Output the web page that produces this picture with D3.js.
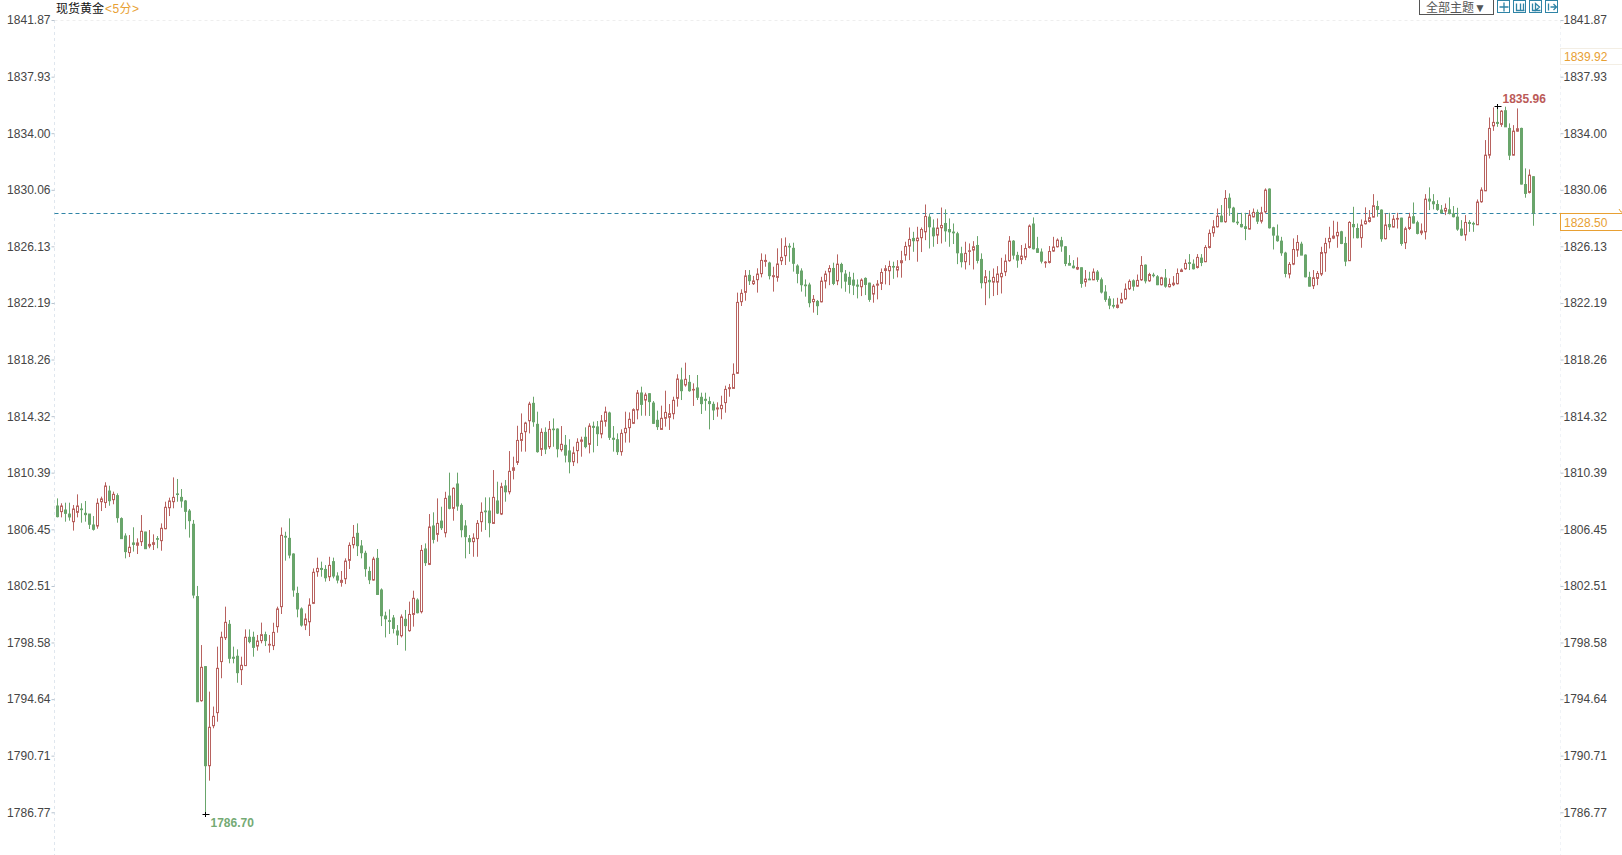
<!DOCTYPE html>
<html><head><meta charset="utf-8">
<script src="https://cdn.jsdelivr.net/npm/d3@7/dist/d3.min.js"></script>
<style>html,body{margin:0;padding:0;background:#fff;overflow:hidden}svg{display:block}</style>
</head><body><svg id="c" width="1622" height="855"></svg>
<script>
const title="现货黄金", period="<5分>", themeLabel="全部主题▼";
const yTicks=[1841.87,1837.93,1834.00,1830.06,1826.13,1822.19,1818.26,1814.32,1810.39,1806.45,1802.51,1798.58,1794.64,1790.71,1786.77];
const lastPrice=1828.50, prevRef=1839.92, periodHigh=1835.96, periodLow=1786.70;
const directions=
"GRGGRRGGGG"+"RRRGRGGGRG"+"RRGRRGRRRR"+"GGGGGGRGRR"+"RRRGGGRRGG"+"RRGRRRRGGG"+"GGRRRRGGRG"+"GRRRRGGGGR"+"GGGGGGRGRR"+"GRGRGRGRGR"+
"GGGGRRRGGR"+"GRGRRRRRRG"+"GRGRGGRGGR"+"RRGRGGRRGG"+"GRRRRRGRGG"+"GRRRRRGRGR"+"GGGGGRRRRR"+"RRRGRRRRGR"+"RRRGGGGGGR"+"GRRRGRGGGG"+
"GRGGRRRRRG"+"RRRRGRRRGG"+"RRGGGGGRRR"+"GGRGRRRRRG"+"GRRRGGGRRR"+"RGGGGRGRGR"+"GGGGGRRRRG"+"RRGRGGRGRR"+"RRRGGRGRRR"+"RGRGGGGGRR"+
"GRRGGGGGRR"+"RGGGRRRRRR"+"RGGRGGRRRR"+"GGRGRRGRRG"+"GRRGGGGRGG"+"GGRGGRRRRR"+"GRGGRRGGRG";
const highs=[
1808.65,1808.31,1808.35,1808.35,1808.19,1808.93,1808.31,1808.47,1807.56,1807.42,
1808.65,1808.77,1809.77,1809.53,1809.12,1809.00,1807.33,1806.22,1806.10,1806.64,
1805.87,1807.49,1806.33,1806.45,1806.15,1806.03,1806.91,1808.42,1808.70,1810.11,
1810.00,1809.30,1808.54,1807.91,1807.15,1802.56,1798.45,1796.99,1795.21,1794.17,
1798.34,1799.38,1801.12,1800.19,1798.34,1798.15,1797.64,1799.54,1799.54,1799.38,
1799.15,1800.01,1799.38,1799.15,1800.00,1801.12,1806.63,1806.33,1807.26,1804.83,
1802.51,1801.07,1800.65,1801.70,1803.78,1804.53,1804.25,1804.01,1804.59,1804.53,
1803.51,1803.60,1804.48,1805.59,1806.80,1806.91,1805.75,1805.01,1803.90,1804.59,
1805.13,1802.39,1800.77,1800.93,1800.54,1799.84,1800.58,1800.89,1801.47,1802.23,
1801.70,1805.41,1805.52,1807.56,1807.68,1808.65,1808.07,1809.11,1810.44,1809.42,
1810.44,1808.30,1807.14,1806.10,1806.22,1807.14,1808.37,1808.72,1808.72,1810.62,
1809.81,1809.74,1809.93,1811.94,1811.55,1813.70,1814.56,1813.98,1815.37,1815.72,
1814.68,1813.52,1813.59,1814.03,1814.21,1813.52,1813.68,1813.06,1812.76,1812.25,
1812.83,1812.94,1813.59,1813.87,1813.99,1814.03,1814.45,1815.03,1814.68,1813.68,
1813.17,1813.45,1814.68,1814.63,1814.91,1816.19,1816.42,1816.00,1815.96,1815.42,
1814.75,1815.10,1816.14,1815.21,1815.72,1817.28,1817.74,1818.09,1817.23,1816.65,
1817.23,1816.00,1816.00,1815.72,1815.38,1815.33,1815.79,1816.49,1816.61,1818.04,
1822.96,1823.19,1824.53,1824.53,1824.12,1824.65,1825.69,1825.62,1825.11,1824.76,
1826.04,1826.74,1826.80,1826.39,1826.43,1824.93,1824.65,1823.88,1823.65,1822.79,
1822.45,1824.06,1824.48,1824.87,1825.04,1825.62,1825.04,1824.53,1824.41,1824.34,
1823.88,1823.95,1824.02,1823.65,1823.55,1823.83,1824.64,1824.87,1825.18,1825.11,
1825.22,1825.87,1826.50,1827.49,1827.19,1827.54,1827.49,1829.09,1828.42,1828.05,
1828.12,1828.88,1828.75,1828.12,1827.77,1827.19,1826.15,1826.50,1826.38,1826.54,
1826.89,1825.69,1824.53,1824.48,1824.64,1824.80,1825.38,1825.62,1826.89,1826.61,
1825.80,1826.27,1826.38,1827.70,1828.19,1826.84,1826.03,1825.15,1826.20,1826.84,
1826.73,1826.84,1826.20,1825.57,1825.22,1825.41,1824.71,1824.53,1824.41,1824.64,
1824.53,1824.01,1823.48,1822.72,1822.56,1822.60,1822.95,1823.60,1823.88,1823.88,
1824.22,1825.50,1824.92,1824.34,1824.34,1824.18,1824.06,1824.60,1823.95,1824.11,
1824.64,1824.64,1825.27,1825.64,1825.27,1825.64,1825.64,1826.26,1827.35,1828.00,
1828.81,1829.05,1830.09,1829.86,1828.93,1828.51,1828.51,1828.51,1828.70,1828.81,
1828.74,1828.93,1830.21,1830.21,1827.54,1827.70,1826.84,1825.80,1825.08,1826.73,
1826.96,1826.50,1825.62,1824.41,1824.53,1824.46,1826.15,1826.77,1827.54,1827.96,
1827.89,1827.26,1826.84,1827.93,1828.93,1827.77,1828.05,1828.89,1828.70,1829.81,
1829.35,1828.75,1828.47,1828.51,1828.35,1828.51,1828.17,1827.54,1828.51,1829.23,
1827.96,1827.77,1829.81,1830.28,1829.81,1829.39,1829.05,1829.16,1829.58,1828.98,
1828.86,1828.00,1828.35,1828.00,1827.89,1829.44,1830.28,1833.57,1835.14,1835.84,
1835.96,1835.65,1835.89,1834.73,1834.61,1835.77,1834.43,1831.60,1831.53,1831.06];
const bodyHighs=[
1808.12,1808.12,1807.84,1807.56,1807.91,1808.12,1807.91,1807.61,1807.56,1806.80,
1808.31,1808.61,1809.51,1809.16,1808.93,1808.84,1807.24,1806.03,1805.25,1805.55,
1805.55,1806.36,1806.31,1805.45,1805.57,1805.85,1806.57,1808.03,1808.47,1808.72,
1808.96,1808.72,1808.47,1807.77,1806.85,1801.82,1796.90,1796.95,1792.73,1793.49,
1796.83,1798.99,1800.03,1799.89,1797.60,1797.67,1797.04,1798.99,1798.99,1798.99,
1798.73,1799.17,1799.17,1798.50,1799.33,1800.96,1806.08,1806.01,1805.87,1804.78,
1802.04,1800.96,1800.26,1801.23,1803.51,1803.78,1803.78,1803.71,1803.99,1804.25,
1803.25,1802.95,1804.29,1805.38,1805.94,1806.22,1805.34,1804.83,1803.57,1804.43,
1804.48,1802.28,1800.47,1800.14,1800.33,1799.43,1800.40,1800.24,1800.58,1801.70,
1801.58,1805.03,1805.13,1806.66,1806.73,1806.91,1807.07,1808.65,1808.81,1809.35,
1809.65,1808.16,1806.73,1805.85,1805.89,1806.91,1807.68,1807.77,1807.77,1808.72,
1808.47,1809.46,1809.51,1810.53,1810.78,1812.68,1813.17,1813.89,1815.21,1815.26,
1813.80,1813.24,1813.24,1813.45,1813.47,1813.47,1812.41,1812.34,1811.95,1811.81,
1812.55,1812.71,1812.90,1813.68,1813.66,1813.62,1814.03,1814.66,1814.59,1812.83,
1812.73,1813.17,1813.52,1814.15,1814.82,1815.98,1815.98,1815.84,1815.93,1815.28,
1814.08,1814.22,1814.63,1814.54,1815.47,1816.95,1816.88,1816.93,1816.72,1816.23,
1816.33,1815.68,1815.54,1815.38,1815.19,1814.94,1815.12,1816.23,1816.35,1817.28,
1822.28,1822.91,1824.12,1824.16,1823.77,1824.25,1825.20,1825.20,1825.02,1824.14,
1824.95,1825.41,1826.18,1826.18,1826.04,1824.81,1824.46,1823.49,1823.49,1822.49,
1822.35,1823.76,1824.25,1824.64,1824.64,1824.94,1824.92,1824.25,1824.02,1823.83,
1823.48,1823.83,1823.95,1823.62,1823.41,1823.55,1824.36,1824.62,1824.78,1824.78,
1824.76,1825.18,1826.17,1826.66,1826.73,1826.75,1827.35,1828.26,1828.21,1827.45,
1827.45,1827.63,1827.77,1827.35,1827.17,1827.05,1825.66,1825.69,1825.87,1826.15,
1826.24,1825.27,1824.06,1823.81,1824.02,1824.25,1824.30,1825.15,1826.54,1826.54,
1825.55,1825.50,1826.03,1827.59,1827.73,1826.01,1825.78,1825.08,1825.82,1826.13,
1826.61,1826.57,1826.15,1824.99,1824.80,1824.71,1824.69,1823.90,1823.90,1824.39,
1824.39,1823.85,1823.00,1822.51,1822.07,1822.09,1822.49,1823.20,1823.74,1823.78,
1823.81,1824.85,1824.87,1824.22,1824.18,1824.06,1823.99,1823.97,1823.53,1823.62,
1824.29,1824.53,1824.99,1825.04,1824.94,1825.41,1825.36,1826.10,1827.08,1827.54,
1828.28,1828.28,1829.51,1829.53,1828.84,1827.86,1827.70,1827.54,1828.35,1828.54,
1828.54,1828.51,1830.09,1830.16,1827.47,1826.89,1826.54,1825.71,1824.92,1825.96,
1826.45,1826.33,1825.57,1824.02,1823.99,1824.29,1825.75,1826.38,1826.73,1826.89,
1827.15,1827.19,1826.38,1827.84,1827.70,1827.42,1827.66,1827.93,1828.17,1829.00,
1828.95,1828.70,1827.66,1827.70,1828.07,1828.12,1828.14,1827.40,1828.21,1828.24,
1827.82,1827.24,1829.46,1829.46,1829.28,1829.09,1828.70,1828.82,1828.72,1828.44,
1828.21,1827.38,1827.84,1827.84,1827.77,1829.26,1830.09,1832.52,1834.38,1834.80,
1834.80,1835.58,1835.61,1834.38,1834.19,1834.36,1834.38,1830.48,1831.13,1831.02];
const bodyLows=[
1807.38,1807.73,1807.61,1807.36,1807.03,1807.68,1807.89,1807.52,1806.85,1806.50,
1806.73,1808.42,1808.36,1808.49,1808.56,1807.31,1805.85,1804.95,1804.88,1805.45,
1805.39,1805.64,1805.15,1805.34,1805.45,1805.83,1805.71,1806.54,1808.00,1808.42,
1808.93,1808.47,1807.75,1807.10,1801.93,1794.51,1794.58,1790.06,1790.06,1792.84,
1793.75,1797.30,1798.96,1797.53,1797.53,1796.53,1796.74,1797.02,1798.69,1798.29,
1798.38,1798.76,1798.76,1798.45,1798.41,1799.73,1801.12,1805.96,1804.71,1802.28,
1800.96,1799.84,1799.84,1800.07,1801.35,1803.55,1803.71,1803.13,1803.20,1803.25,
1802.97,1802.81,1803.06,1804.34,1805.43,1805.36,1804.87,1803.76,1802.99,1802.97,
1801.97,1800.49,1800.28,1800.12,1799.61,1799.15,1799.10,1799.80,1799.45,1800.58,
1800.70,1800.77,1804.18,1804.06,1805.80,1806.15,1806.61,1806.26,1807.96,1807.96,
1808.12,1806.47,1805.99,1805.64,1805.64,1805.85,1807.03,1807.72,1806.96,1806.91,
1807.63,1807.56,1809.11,1809.11,1810.60,1811.15,1812.68,1813.29,1814.05,1813.98,
1811.90,1812.06,1812.08,1812.24,1813.45,1812.10,1812.04,1811.66,1811.20,1811.20,
1811.97,1812.62,1812.25,1812.41,1813.59,1813.15,1813.13,1814.01,1812.90,1812.76,
1811.90,1811.90,1813.22,1813.57,1813.87,1814.80,1815.19,1815.49,1815.38,1813.87,
1813.64,1813.45,1814.22,1814.29,1814.54,1815.61,1816.14,1816.54,1816.14,1816.19,
1815.68,1815.24,1815.47,1815.24,1814.80,1814.87,1814.89,1815.31,1816.28,1816.30,
1817.35,1822.33,1822.98,1823.79,1823.58,1823.86,1824.28,1825.13,1824.14,1824.07,
1824.02,1825.18,1825.53,1826.16,1825.00,1824.30,1823.51,1823.44,1822.26,1822.33,
1822.05,1822.32,1823.76,1824.41,1823.60,1823.78,1824.41,1823.76,1823.53,1823.48,
1823.41,1823.37,1823.53,1822.49,1822.86,1823.48,1823.60,1824.50,1824.48,1824.74,
1824.53,1825.04,1825.57,1826.20,1826.57,1826.57,1826.78,1827.19,1827.54,1826.91,
1826.96,1827.47,1827.26,1827.19,1827.12,1825.73,1825.11,1825.11,1825.85,1825.92,
1825.20,1823.65,1823.65,1823.72,1823.69,1823.69,1824.06,1824.41,1825.18,1825.57,
1825.22,1825.27,1825.43,1826.10,1826.01,1825.76,1825.15,1825.04,1825.06,1825.85,
1826.15,1826.20,1824.99,1824.87,1824.69,1824.60,1823.60,1823.71,1823.85,1823.85,
1823.88,1823.00,1822.49,1822.09,1822.02,1821.93,1822.25,1822.53,1823.23,1823.41,
1823.41,1823.85,1823.78,1823.78,1824.15,1823.51,1823.51,1823.41,1823.37,1823.51,
1823.58,1824.43,1824.62,1824.99,1824.62,1824.71,1825.06,1825.11,1826.10,1827.12,
1827.54,1827.89,1827.89,1828.86,1827.89,1827.82,1827.54,1827.42,1827.38,1828.23,
1827.93,1827.93,1828.58,1827.47,1826.96,1826.57,1825.73,1824.29,1824.25,1824.94,
1825.92,1825.57,1824.06,1823.41,1823.44,1823.95,1824.25,1825.73,1826.50,1826.75,
1826.91,1826.38,1825.15,1825.18,1827.54,1826.78,1826.78,1827.75,1827.91,1828.21,
1828.75,1826.71,1826.71,1827.54,1827.52,1828.07,1826.38,1826.43,1827.42,1827.80,
1827.08,1827.12,1827.19,1829.33,1829.14,1828.75,1828.51,1828.63,1828.47,1828.24,
1827.38,1826.96,1826.98,1827.77,1827.73,1827.68,1829.28,1830.04,1832.52,1834.56,
1834.73,1834.66,1834.49,1832.52,1832.52,1834.19,1830.51,1829.86,1829.93,1828.50];
const lows=[
1807.33,1807.33,1807.03,1807.10,1806.41,1807.33,1806.96,1807.03,1806.52,1806.41,
1806.54,1807.77,1807.98,1808.14,1808.24,1806.96,1805.83,1804.48,1804.57,1804.95,
1804.78,1805.34,1805.15,1805.18,1805.06,1805.18,1805.01,1806.50,1807.42,1807.96,
1808.42,1808.00,1806.50,1805.92,1801.70,1794.51,1794.51,1786.70,1789.02,1792.66,
1793.12,1796.14,1798.80,1797.18,1797.18,1795.83,1795.67,1797.02,1798.57,1797.64,
1798.06,1798.57,1798.38,1797.92,1798.10,1799.31,1800.61,1804.32,1804.48,1801.81,
1800.38,1799.73,1799.49,1799.08,1801.30,1803.20,1803.20,1802.86,1802.90,1803.09,
1802.74,1802.51,1802.69,1803.74,1805.17,1804.64,1804.48,1803.20,1802.69,1802.93,
1801.93,1799.77,1798.98,1799.22,1799.26,1798.45,1798.98,1798.06,1799.38,1799.73,
1800.65,1800.65,1803.95,1804.01,1805.52,1805.64,1806.45,1805.94,1807.89,1807.10,
1807.79,1805.94,1804.48,1804.78,1804.59,1804.59,1806.33,1806.45,1805.94,1806.87,
1807.56,1807.49,1808.42,1808.93,1809.97,1810.97,1811.90,1811.90,1813.17,1813.63,
1811.83,1811.60,1811.73,1812.08,1812.24,1811.50,1811.90,1811.15,1810.39,1810.90,
1811.09,1811.55,1812.13,1811.78,1811.85,1812.29,1812.83,1813.64,1812.71,1811.90,
1811.67,1811.62,1812.53,1812.53,1813.82,1814.15,1814.40,1814.40,1814.38,1813.82,
1813.41,1813.41,1813.64,1813.41,1814.15,1815.03,1815.49,1816.42,1816.07,1815.08,
1815.49,1814.52,1814.75,1813.45,1814.10,1814.33,1814.15,1814.61,1815.72,1816.30,
1817.30,1822.03,1822.40,1823.49,1823.49,1822.96,1824.02,1824.76,1823.88,1823.03,
1823.72,1824.88,1824.88,1825.11,1824.42,1823.61,1823.03,1822.68,1821.94,1821.57,
1821.40,1822.28,1823.25,1823.48,1823.48,1823.48,1823.25,1823.02,1822.90,1822.79,
1822.56,1822.72,1822.79,1822.32,1822.26,1822.49,1823.14,1823.53,1823.48,1823.92,
1824.02,1824.00,1825.18,1825.22,1825.80,1825.11,1825.78,1826.61,1826.03,1826.15,
1826.34,1826.38,1826.50,1826.15,1826.34,1824.94,1824.71,1824.57,1824.87,1824.57,
1824.99,1823.25,1822.09,1822.56,1822.72,1822.79,1822.90,1824.11,1825.11,1825.27,
1824.69,1824.94,1825.22,1826.03,1825.96,1825.73,1824.99,1824.69,1824.99,1825.80,
1826.10,1825.80,1824.80,1824.87,1824.64,1824.53,1823.30,1823.37,1823.83,1823.83,
1823.71,1822.90,1822.32,1821.81,1821.86,1821.86,1822.21,1822.44,1823.14,1823.09,
1823.37,1823.78,1823.60,1823.71,1824.02,1823.48,1823.46,1823.30,1823.32,1823.41,
1823.53,1824.39,1824.55,1824.53,1824.57,1824.64,1824.80,1825.08,1826.03,1826.84,
1827.49,1827.86,1827.82,1828.30,1827.84,1827.66,1827.49,1826.61,1827.35,1828.19,
1827.73,1827.77,1828.47,1827.42,1825.96,1826.50,1825.52,1824.02,1823.95,1824.87,
1825.45,1825.57,1824.02,1823.39,1823.21,1823.48,1824.11,1824.41,1826.03,1826.68,
1826.08,1826.33,1824.80,1825.18,1826.73,1826.73,1826.08,1827.70,1827.84,1828.19,
1828.24,1826.50,1826.66,1827.31,1827.49,1827.42,1826.22,1825.99,1827.31,1827.77,
1827.01,1826.96,1826.66,1828.70,1828.75,1828.65,1828.47,1828.35,1828.40,1828.19,
1827.26,1826.89,1826.57,1827.19,1827.19,1827.66,1829.21,1830.02,1832.29,1834.21,
1834.49,1834.49,1834.49,1832.18,1832.50,1834.15,1830.48,1829.56,1829.86,1827.61];

const GREEN="#69a56b", RED="#b8625f", ORANGE="#e8a033", AXIS="#454545", FAINT="#dfe6ee", TEAL="#2f84a6";
const FONT="'Liberation Sans',Arial,sans-serif", CJK="'Liberation Sans','Noto Sans CJK SC',sans-serif";
const W=1622,H=855,plotL=54.5,plotR=1560.5;
const svg=d3.select("#c");
const indices=d3.range(highs.length);
const x=d3.scalePoint().domain(indices).range([57.5,57.5+4*(highs.length-1)]);
const y=d3.scaleLinear().domain([periodLow,periodHigh]).range([814,105.7]);
const labelShift=-0.7;

// frame lines
svg.append("line").attr("x1",plotL).attr("x2",plotL).attr("y1",20).attr("y2",H)
  .attr("stroke",FAINT).attr("stroke-dasharray","3,3");
svg.append("line").attr("x1",plotL).attr("x2",plotR).attr("y1",20.5).attr("y2",20.5)
  .attr("stroke","#eeeeee").attr("stroke-dasharray","3,3");
svg.append("line").attr("x1",plotR).attr("x2",plotR).attr("y1",20).attr("y2",H)
  .attr("stroke","#f0f3f7").attr("stroke-dasharray","3,3");

// axes
function styleAxis(g){
  g.select(".domain").remove();
  g.selectAll("line").attr("stroke","#b9c4cf");
  g.selectAll("text").attr("fill",AXIS).style("font-family",FONT).style("font-size","12px");
}
svg.append("g").attr("transform",`translate(${plotL},${labelShift})`)
  .call(d3.axisLeft(y).tickValues(yTicks).tickSize(3).tickPadding(1).tickFormat(d3.format(".2f"))).call(styleAxis);
svg.append("g").attr("transform",`translate(${plotR},${labelShift})`)
  .call(d3.axisRight(y).tickValues(yTicks).tickSize(3).tickPadding(0).tickFormat(d3.format(".2f"))).call(styleAxis);

// last price line
svg.append("line").attr("x1",plotL).attr("x2",plotR).attr("y1",Math.round(y(lastPrice))+0.5).attr("y2",Math.round(y(lastPrice))+0.5)
  .attr("stroke",TEAL).attr("stroke-dasharray","4,3");

// candles
const cg=svg.append("g").selectAll("g").data(indices).join("g");
cg.append("line").attr("x1",i=>x(i)).attr("x2",i=>x(i)).attr("y1",i=>y(highs[i])).attr("y2",i=>y(lows[i]))
  .attr("stroke",i=>directions[i]==="R"?RED:GREEN).attr("stroke-width",1);
cg.append("rect").attr("x",i=>x(i)-1).attr("width",2)
  .attr("y",i=>y(bodyHighs[i]))
  .attr("height",i=>Math.max(y(bodyLows[i])-y(bodyHighs[i]),0.6))
  .attr("fill",i=>directions[i]==="R"?"#fff":GREEN)
  .attr("stroke",i=>directions[i]==="R"?RED:GREEN).attr("stroke-width",1);

// extreme markers
const hiI=highs.indexOf(periodHigh), loI=lows.indexOf(periodLow);
[[hiI,periodHigh],[loI,periodLow]].forEach(([i,v])=>{
  svg.append("path").attr("d",`M${x(i)-3},${Math.round(y(v))+.5}H${x(i)+4}M${x(i)},${Math.round(y(v))-2}V${Math.round(y(v))+3}`).attr("stroke","#000").attr("fill","none");
});
svg.append("text").attr("x",x(hiI)+5).attr("y",y(periodHigh)-2.5).attr("fill","#bb5a58")
  .style("font",`bold 12px ${FONT}`).text(d3.format(".2f")(periodHigh));
svg.append("text").attr("x",x(loI)+5).attr("y",y(periodLow)+12.5).attr("fill","#74aa74")
  .style("font",`bold 12px ${FONT}`).text(d3.format(".2f")(periodLow));

// price boxes
svg.append("rect").attr("x",plotR).attr("y",213.5).attr("width",W-plotR+2).attr("height",17)
  .attr("fill","#fff").attr("stroke",ORANGE);
svg.append("text").attr("x",1564).attr("y",226.5).attr("fill",ORANGE).style("font",`12px ${FONT}`).text(d3.format(".2f")(lastPrice));
svg.append("rect").attr("x",plotR).attr("y",48.5).attr("width",W-plotR+2).attr("height",16)
  .attr("fill","#fff").attr("stroke","#f3eee4");
svg.append("text").attr("x",1564).attr("y",60.5).attr("fill",ORANGE).style("font",`12px ${FONT}`).text(d3.format(".2f")(prevRef));
svg.append("path").attr("d",`M${W-3},209L${W-1},212H${W}`).attr("stroke",ORANGE).attr("fill","none");

// title
const t=svg.append("text").attr("x",56).attr("y",13).style("font",`12px ${CJK}`);
t.append("tspan").attr("fill","#111").text(title);
t.append("tspan").attr("fill",ORANGE).attr("dx",1).style("letter-spacing","0.4px").text(period);

// toolbar
svg.append("rect").attr("x",1419.5).attr("y",-2).attr("width",74).attr("height",16.5).attr("fill","#fff").attr("stroke","#555");
svg.append("text").attr("x",1426).attr("y",12).attr("fill","#555").style("font",`12px ${CJK}`).text(themeLabel);
const icons=[1497.5,1513.5,1529.5,1545.5];
const glyphs=["M6.5,2V11M2,6.5H11","M3,3V10H11M7,3V10M10,3V10","M3,3V10H11M6,3L10,6.5L6,10Z","M3,3V10M5,6.5H11M8,3.5L11,6.5L8,9.5"];
const ig=svg.append("g").selectAll("g").data(icons).join("g").attr("transform",d=>`translate(${d},0.5)`);
ig.append("rect").attr("width",12).attr("height",12).attr("fill","#fff").attr("stroke",TEAL);
ig.append("path").attr("d",(d,i)=>glyphs[i]).attr("fill","none").attr("stroke",TEAL).attr("stroke-width",1.3);
</script></body></html>
